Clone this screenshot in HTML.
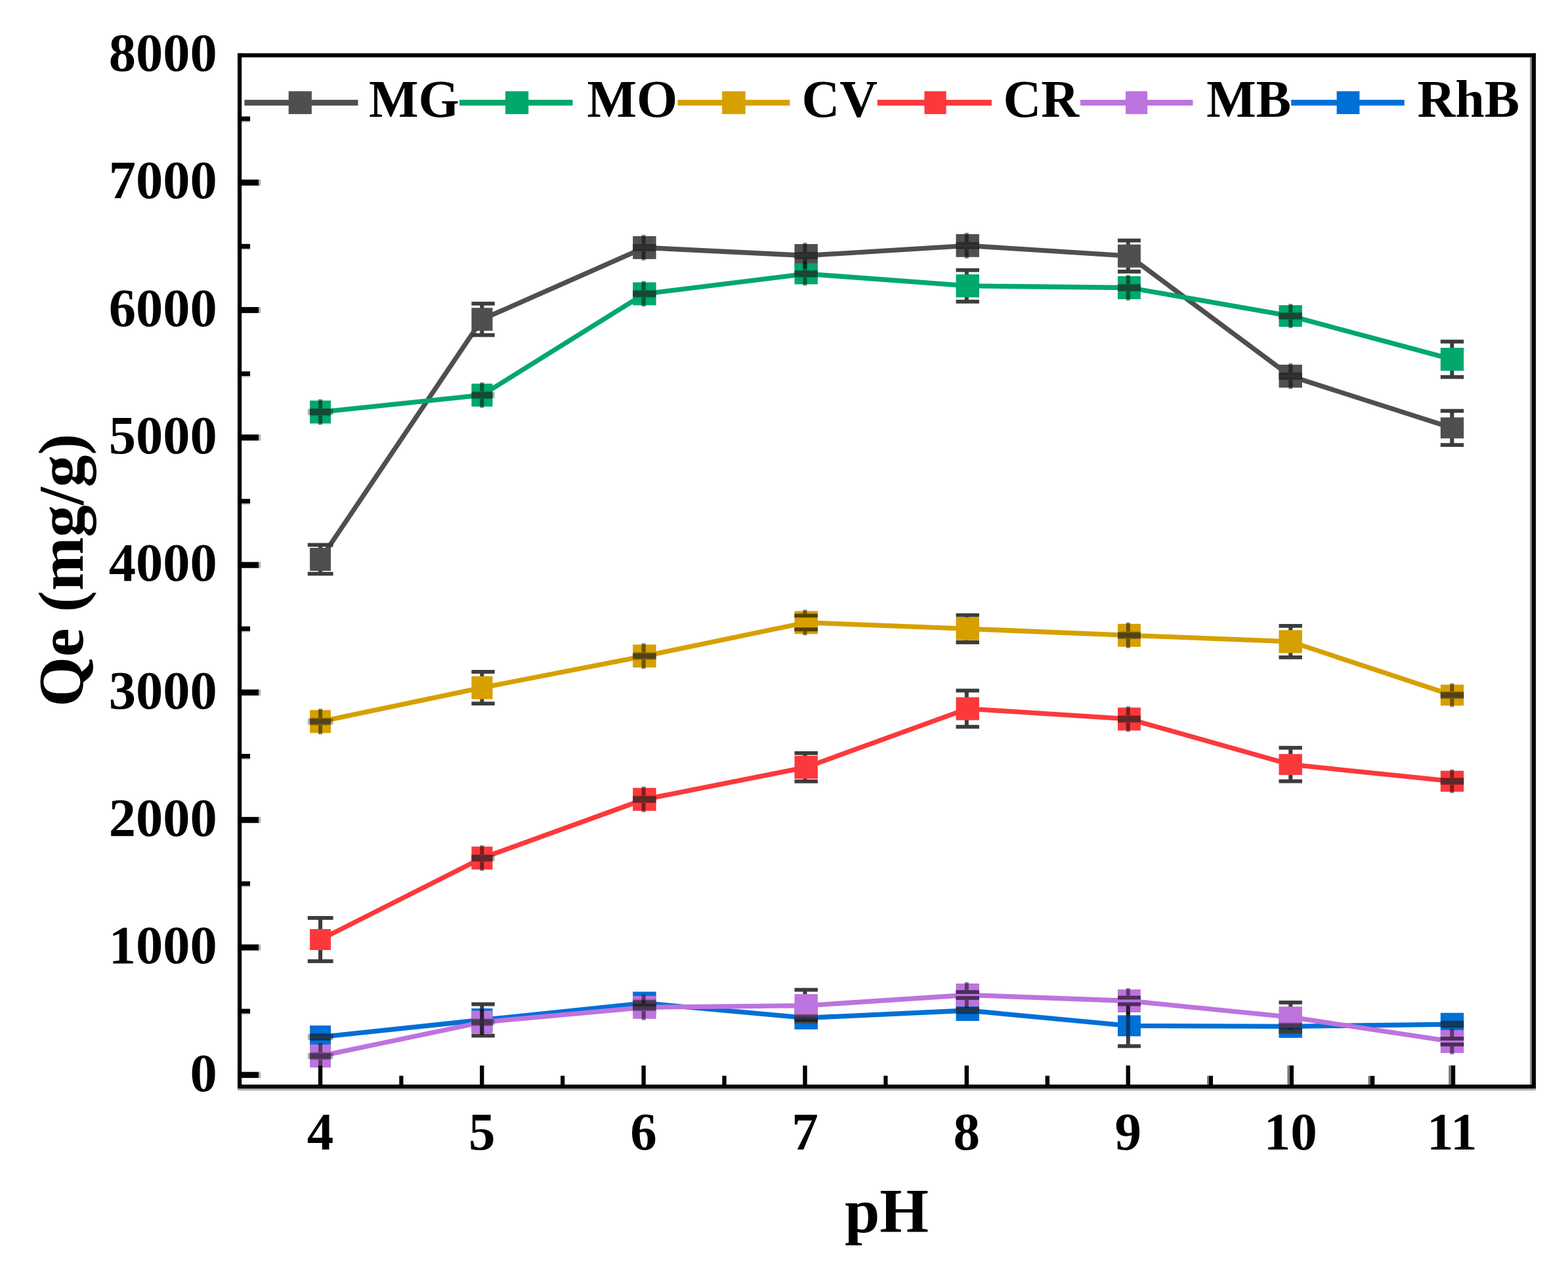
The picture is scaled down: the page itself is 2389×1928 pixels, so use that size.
<!DOCTYPE html>
<html lang="en"><head><meta charset="utf-8">
<title>Qe (mg/g) versus pH</title>
<style>
html,body{margin:0;padding:0;background:#fff;}
body{width:2389px;height:1928px;overflow:hidden;}
svg{display:block;filter:blur(0.6px);}
text{font-family:"Liberation Serif","Times New Roman",Times,serif;font-weight:bold;fill:#000;}
.tk{font-size:82.5px;}
.xt{font-size:81px;}
.lg{font-size:80px;}
.ax{font-size:96px;}
.ay{font-size:98px;}
</style></head><body>
<svg width="2389" height="1928" viewBox="0 0 2389 1928">
<rect x="0" y="0" width="2389" height="1928" fill="#ffffff"/>
<g>
<polyline points="488.1,852.5 734.45,486.7 981.9,377.4 1228.2,389.5 1474.2,374.3 1720.45,390.2 1966.2,573.3 2212.5,652.2" fill="none" stroke="#4f4f4f" stroke-width="7.3" stroke-linejoin="round"/>
<rect x="485.1" y="830.5" width="6" height="44" fill="#3c3c3c"/>
<rect x="468.8" y="827.6" width="38.8" height="5.8" fill="#3c3c3c"/>
<rect x="468.8" y="871.6" width="38.8" height="5.8" fill="#3c3c3c"/>
<rect x="472.1" y="835" width="32" height="35" fill="#4f4f4f"/>
<rect x="731.3" y="462.7" width="6" height="48" fill="#3c3c3c"/>
<rect x="718.4" y="459.8" width="35.3" height="5.8" fill="#3c3c3c"/>
<rect x="718.4" y="507.8" width="35.3" height="5.8" fill="#3c3c3c"/>
<rect x="718.4" y="469.2" width="32.1" height="35" fill="#4f4f4f"/>
<rect x="964.2" y="359.9" width="35.4" height="35" fill="#4f4f4f"/>
<rect x="1210.5" y="372" width="35.4" height="35" fill="#4f4f4f"/>
<rect x="1456.5" y="356.8" width="35.4" height="35" fill="#4f4f4f"/>
<rect x="1715.8" y="366.5" width="6" height="47.4" fill="#3c3c3c"/>
<rect x="1703" y="363.6" width="34.9" height="5.8" fill="#3c3c3c"/>
<rect x="1703" y="411" width="34.9" height="5.8" fill="#3c3c3c"/>
<rect x="1703" y="372.7" width="34.9" height="35" fill="#4f4f4f"/>
<rect x="1948.5" y="555.8" width="35.4" height="35" fill="#4f4f4f"/>
<rect x="2209.3" y="626.2" width="6" height="52" fill="#3c3c3c"/>
<rect x="2194.8" y="623.3" width="35.4" height="5.8" fill="#3c3c3c"/>
<rect x="2194.8" y="675.3" width="35.4" height="5.8" fill="#3c3c3c"/>
<rect x="2194.8" y="636.2" width="35.4" height="32" fill="#4f4f4f"/>
</g>
<g>
<polyline points="488.1,628 734.45,602.2 981.9,447.8 1228.2,417.3 1474.2,435.7 1720.45,438.5 1966.2,481.6 2212.5,547.6" fill="none" stroke="#00a86b" stroke-width="7.3" stroke-linejoin="round"/>
<rect x="472.1" y="610.5" width="32" height="35" fill="#00a86b"/>
<rect x="718.4" y="584.7" width="32.1" height="35" fill="#00a86b"/>
<rect x="964.2" y="430.3" width="35.4" height="35" fill="#00a86b"/>
<rect x="1210.5" y="401.3" width="35.4" height="32" fill="#00a86b"/>
<rect x="1469.8" y="411.7" width="6" height="48" fill="#3c3c3c"/>
<rect x="1456.5" y="408.8" width="35.4" height="5.8" fill="#3c3c3c"/>
<rect x="1456.5" y="456.8" width="35.4" height="5.8" fill="#3c3c3c"/>
<rect x="1456.5" y="418.2" width="35.4" height="35" fill="#00a86b"/>
<rect x="1703" y="421" width="34.9" height="35" fill="#00a86b"/>
<rect x="1948.5" y="465.1" width="35.4" height="33" fill="#00a86b"/>
<rect x="2209.3" y="520.6" width="6" height="54" fill="#3c3c3c"/>
<rect x="2194.8" y="517.7" width="35.4" height="5.8" fill="#3c3c3c"/>
<rect x="2194.8" y="571.7" width="35.4" height="5.8" fill="#3c3c3c"/>
<rect x="2194.8" y="530.1" width="35.4" height="35" fill="#00a86b"/>
</g>
<g>
<polyline points="488.1,1099.7 734.45,1048.1 981.9,999.9 1228.2,948.8 1474.2,958.3 1720.45,968.3 1966.2,977.9 2212.5,1059.5" fill="none" stroke="#d6a000" stroke-width="7.3" stroke-linejoin="round"/>
<rect x="472.1" y="1082.2" width="32" height="35" fill="#d6a000"/>
<rect x="731.3" y="1023.9" width="6" height="48.4" fill="#3c3c3c"/>
<rect x="718.4" y="1021" width="35.3" height="5.8" fill="#3c3c3c"/>
<rect x="718.4" y="1069.4" width="35.3" height="5.8" fill="#3c3c3c"/>
<rect x="718.4" y="1030.6" width="32.1" height="35" fill="#d6a000"/>
<rect x="964.2" y="982.4" width="35.4" height="35" fill="#d6a000"/>
<rect x="1223.5" y="938.3" width="6" height="21" fill="#3c3c3c"/>
<rect x="1210.5" y="935.4" width="35.4" height="5.8" fill="#3c3c3c"/>
<rect x="1210.5" y="956.4" width="35.4" height="5.8" fill="#3c3c3c"/>
<rect x="1210.5" y="931.3" width="35.4" height="35" fill="#d6a000"/>
<rect x="1469.8" y="937.6" width="6" height="41.4" fill="#3c3c3c"/>
<rect x="1456.5" y="934.7" width="35.4" height="5.8" fill="#3c3c3c"/>
<rect x="1456.5" y="976.1" width="35.4" height="5.8" fill="#3c3c3c"/>
<rect x="1456.5" y="940.8" width="35.4" height="35" fill="#d6a000"/>
<rect x="1703" y="950.8" width="34.9" height="35" fill="#d6a000"/>
<rect x="1963.3" y="953.9" width="6" height="48" fill="#3c3c3c"/>
<rect x="1948.5" y="951" width="35.4" height="5.8" fill="#3c3c3c"/>
<rect x="1948.5" y="999" width="35.4" height="5.8" fill="#3c3c3c"/>
<rect x="1948.5" y="960.4" width="35.4" height="35" fill="#d6a000"/>
<rect x="2194.8" y="1043.5" width="35.4" height="32" fill="#d6a000"/>
</g>
<g>
<polyline points="488.1,1432 734.45,1307.8 981.9,1218.3 1228.2,1169.4 1474.2,1080.1 1720.45,1095.9 1966.2,1165.2 2212.5,1190.7" fill="none" stroke="#fb393c" stroke-width="7.3" stroke-linejoin="round"/>
<rect x="485.1" y="1399" width="6" height="66" fill="#3c3c3c"/>
<rect x="468.8" y="1396.1" width="38.8" height="5.8" fill="#3c3c3c"/>
<rect x="468.8" y="1462.1" width="38.8" height="5.8" fill="#3c3c3c"/>
<rect x="472.1" y="1416" width="32" height="32" fill="#fb393c"/>
<rect x="718.4" y="1290.3" width="32.1" height="35" fill="#fb393c"/>
<rect x="964.2" y="1200.8" width="35.4" height="35" fill="#fb393c"/>
<rect x="1223.5" y="1147.9" width="6" height="43" fill="#3c3c3c"/>
<rect x="1210.5" y="1145" width="35.4" height="5.8" fill="#3c3c3c"/>
<rect x="1210.5" y="1188" width="35.4" height="5.8" fill="#3c3c3c"/>
<rect x="1210.5" y="1151.9" width="35.4" height="35" fill="#fb393c"/>
<rect x="1469.8" y="1052.5" width="6" height="55.2" fill="#3c3c3c"/>
<rect x="1456.5" y="1049.6" width="35.4" height="5.8" fill="#3c3c3c"/>
<rect x="1456.5" y="1104.8" width="35.4" height="5.8" fill="#3c3c3c"/>
<rect x="1456.5" y="1062.6" width="35.4" height="35" fill="#fb393c"/>
<rect x="1703" y="1078.4" width="34.9" height="35" fill="#fb393c"/>
<rect x="1963.3" y="1139.7" width="6" height="51" fill="#3c3c3c"/>
<rect x="1948.5" y="1136.8" width="35.4" height="5.8" fill="#3c3c3c"/>
<rect x="1948.5" y="1187.8" width="35.4" height="5.8" fill="#3c3c3c"/>
<rect x="1948.5" y="1149.2" width="35.4" height="32" fill="#fb393c"/>
<rect x="2194.8" y="1174.7" width="35.4" height="32" fill="#fb393c"/>
</g>
<g>
<polyline points="488.1,1580.5 734.45,1554.5 981.9,1529 1228.2,1551.4 1474.2,1540 1720.45,1563.4 1966.2,1564.3 2212.5,1561.2" fill="none" stroke="#006fd6" stroke-width="7.3" stroke-linejoin="round"/>
<rect x="472.1" y="1563" width="32" height="35" fill="#006fd6"/>
<rect x="731.3" y="1530.5" width="6" height="48" fill="#3c3c3c"/>
<rect x="718.4" y="1527.6" width="35.3" height="5.8" fill="#3c3c3c"/>
<rect x="718.4" y="1575.6" width="35.3" height="5.8" fill="#3c3c3c"/>
<rect x="718.4" y="1537" width="32.1" height="35" fill="#006fd6"/>
<rect x="964.2" y="1511.5" width="35.4" height="35" fill="#006fd6"/>
<rect x="1210.5" y="1533.9" width="35.4" height="35" fill="#006fd6"/>
<rect x="1456.5" y="1524" width="35.4" height="32" fill="#006fd6"/>
<rect x="1715.8" y="1532.4" width="6" height="62" fill="#3c3c3c"/>
<rect x="1703" y="1529.5" width="34.9" height="5.8" fill="#3c3c3c"/>
<rect x="1703" y="1591.5" width="34.9" height="5.8" fill="#3c3c3c"/>
<rect x="1703" y="1547.4" width="34.9" height="32" fill="#006fd6"/>
<rect x="1948.5" y="1546.8" width="35.4" height="35" fill="#006fd6"/>
<rect x="2194.8" y="1543.7" width="35.4" height="35" fill="#006fd6"/>
</g>
<g>
<polyline points="488.1,1609.5 734.45,1558 981.9,1535.3 1228.2,1532.6 1474.2,1516.5 1720.45,1525.5 1966.2,1550.2 2212.5,1587.4" fill="none" stroke="#bd74de" stroke-width="7.3" stroke-linejoin="round"/>
<rect x="472.1" y="1592" width="32" height="35" fill="#bd74de"/>
<rect x="718.4" y="1540.5" width="32.1" height="35" fill="#bd74de"/>
<rect x="964.2" y="1517.8" width="35.4" height="35" fill="#bd74de"/>
<rect x="1223.5" y="1508.6" width="6" height="48" fill="#3c3c3c"/>
<rect x="1210.5" y="1505.7" width="35.4" height="5.8" fill="#3c3c3c"/>
<rect x="1210.5" y="1553.7" width="35.4" height="5.8" fill="#3c3c3c"/>
<rect x="1210.5" y="1515.1" width="35.4" height="35" fill="#bd74de"/>
<rect x="1469.8" y="1512" width="6" height="9" fill="#3c3c3c"/>
<rect x="1456.5" y="1509.1" width="35.4" height="5.8" fill="#3c3c3c"/>
<rect x="1456.5" y="1518.1" width="35.4" height="5.8" fill="#3c3c3c"/>
<rect x="1456.5" y="1499" width="35.4" height="35" fill="#bd74de"/>
<rect x="1715.8" y="1520.5" width="6" height="10" fill="#3c3c3c"/>
<rect x="1703" y="1517.6" width="34.9" height="5.8" fill="#3c3c3c"/>
<rect x="1703" y="1527.6" width="34.9" height="5.8" fill="#3c3c3c"/>
<rect x="1703" y="1508" width="34.9" height="35" fill="#bd74de"/>
<rect x="1963.3" y="1527.9" width="6" height="44.6" fill="#3c3c3c"/>
<rect x="1948.5" y="1525" width="35.4" height="5.8" fill="#3c3c3c"/>
<rect x="1948.5" y="1569.6" width="35.4" height="5.8" fill="#3c3c3c"/>
<rect x="1948.5" y="1534.2" width="35.4" height="32" fill="#bd74de"/>
<rect x="2209.3" y="1582.9" width="6" height="9" fill="#3c3c3c"/>
<rect x="2194.8" y="1580" width="35.4" height="5.8" fill="#3c3c3c"/>
<rect x="2194.8" y="1589" width="35.4" height="5.8" fill="#3c3c3c"/>
<rect x="2194.8" y="1569.9" width="35.4" height="35" fill="#bd74de"/>
</g>
<g>
<rect x="977.6" y="357.9" width="6" height="13.9" fill="#000" fill-opacity="0.5"/>
<rect x="977.6" y="383" width="6" height="13.9" fill="#000" fill-opacity="0.5"/>
<rect x="964.2" y="372.8" width="35.4" height="9.2" fill="#000" fill-opacity="0.3"/>
<rect x="964.2" y="371.8" width="35.4" height="11.2" fill="#000" fill-opacity="0.3"/>
<rect x="964.2" y="374.4" width="35.4" height="6" fill="#3a3a3a" fill-opacity="0.55"/>
<rect x="1223.5" y="370" width="6" height="13.9" fill="#000" fill-opacity="0.5"/>
<rect x="1223.5" y="395.1" width="6" height="13.9" fill="#000" fill-opacity="0.5"/>
<rect x="1210.5" y="384.9" width="35.4" height="9.2" fill="#000" fill-opacity="0.3"/>
<rect x="1210.5" y="383.9" width="35.4" height="11.2" fill="#000" fill-opacity="0.3"/>
<rect x="1210.5" y="386.5" width="35.4" height="6" fill="#3a3a3a" fill-opacity="0.55"/>
<rect x="1469.8" y="354.8" width="6" height="13.9" fill="#000" fill-opacity="0.5"/>
<rect x="1469.8" y="379.9" width="6" height="13.9" fill="#000" fill-opacity="0.5"/>
<rect x="1456.5" y="369.7" width="35.4" height="9.2" fill="#000" fill-opacity="0.3"/>
<rect x="1456.5" y="368.7" width="35.4" height="11.2" fill="#000" fill-opacity="0.3"/>
<rect x="1456.5" y="371.3" width="35.4" height="6" fill="#3a3a3a" fill-opacity="0.55"/>
<rect x="1963.3" y="553.8" width="6" height="13.9" fill="#000" fill-opacity="0.5"/>
<rect x="1963.3" y="578.9" width="6" height="13.9" fill="#000" fill-opacity="0.5"/>
<rect x="1948.5" y="568.7" width="35.4" height="9.2" fill="#000" fill-opacity="0.3"/>
<rect x="1948.5" y="567.7" width="35.4" height="11.2" fill="#000" fill-opacity="0.3"/>
<rect x="1948.5" y="570.3" width="35.4" height="6" fill="#3a3a3a" fill-opacity="0.55"/>
<rect x="485.1" y="608.5" width="6" height="13.9" fill="#000" fill-opacity="0.5"/>
<rect x="485.1" y="633.6" width="6" height="13.9" fill="#000" fill-opacity="0.5"/>
<rect x="468.8" y="623.4" width="38.8" height="9.2" fill="#000" fill-opacity="0.3"/>
<rect x="472.1" y="622.4" width="32" height="11.2" fill="#000" fill-opacity="0.3"/>
<rect x="472.1" y="625" width="32" height="6" fill="#3a3a3a" fill-opacity="0.55"/>
<rect x="731.3" y="582.7" width="6" height="13.9" fill="#000" fill-opacity="0.5"/>
<rect x="731.3" y="607.8" width="6" height="13.9" fill="#000" fill-opacity="0.5"/>
<rect x="718.4" y="597.6" width="35.3" height="9.2" fill="#000" fill-opacity="0.3"/>
<rect x="718.4" y="596.6" width="32.1" height="11.2" fill="#000" fill-opacity="0.3"/>
<rect x="718.4" y="599.2" width="32.1" height="6" fill="#3a3a3a" fill-opacity="0.55"/>
<rect x="977.6" y="428.3" width="6" height="13.9" fill="#000" fill-opacity="0.5"/>
<rect x="977.6" y="453.4" width="6" height="13.9" fill="#000" fill-opacity="0.5"/>
<rect x="964.2" y="443.2" width="35.4" height="9.2" fill="#000" fill-opacity="0.3"/>
<rect x="964.2" y="442.2" width="35.4" height="11.2" fill="#000" fill-opacity="0.3"/>
<rect x="964.2" y="444.8" width="35.4" height="6" fill="#3a3a3a" fill-opacity="0.55"/>
<rect x="1223.5" y="399.3" width="6" height="12.4" fill="#000" fill-opacity="0.5"/>
<rect x="1223.5" y="422.9" width="6" height="12.4" fill="#000" fill-opacity="0.5"/>
<rect x="1210.5" y="412.7" width="35.4" height="9.2" fill="#000" fill-opacity="0.3"/>
<rect x="1210.5" y="411.7" width="35.4" height="11.2" fill="#000" fill-opacity="0.3"/>
<rect x="1210.5" y="414.3" width="35.4" height="6" fill="#3a3a3a" fill-opacity="0.55"/>
<rect x="1715.8" y="419" width="6" height="13.9" fill="#000" fill-opacity="0.5"/>
<rect x="1715.8" y="444.1" width="6" height="13.9" fill="#000" fill-opacity="0.5"/>
<rect x="1703" y="433.9" width="34.9" height="9.2" fill="#000" fill-opacity="0.3"/>
<rect x="1703" y="432.9" width="34.9" height="11.2" fill="#000" fill-opacity="0.3"/>
<rect x="1703" y="435.5" width="34.9" height="6" fill="#3a3a3a" fill-opacity="0.55"/>
<rect x="1963.3" y="463.1" width="6" height="12.9" fill="#000" fill-opacity="0.5"/>
<rect x="1963.3" y="487.2" width="6" height="12.9" fill="#000" fill-opacity="0.5"/>
<rect x="1948.5" y="477" width="35.4" height="9.2" fill="#000" fill-opacity="0.3"/>
<rect x="1948.5" y="476" width="35.4" height="11.2" fill="#000" fill-opacity="0.3"/>
<rect x="1948.5" y="478.6" width="35.4" height="6" fill="#3a3a3a" fill-opacity="0.55"/>
<rect x="485.1" y="1080.2" width="6" height="13.9" fill="#000" fill-opacity="0.5"/>
<rect x="485.1" y="1105.3" width="6" height="13.9" fill="#000" fill-opacity="0.5"/>
<rect x="468.8" y="1095.1" width="38.8" height="9.2" fill="#000" fill-opacity="0.3"/>
<rect x="472.1" y="1094.1" width="32" height="11.2" fill="#000" fill-opacity="0.3"/>
<rect x="472.1" y="1096.7" width="32" height="6" fill="#3a3a3a" fill-opacity="0.55"/>
<rect x="977.6" y="980.4" width="6" height="13.9" fill="#000" fill-opacity="0.5"/>
<rect x="977.6" y="1005.5" width="6" height="13.9" fill="#000" fill-opacity="0.5"/>
<rect x="964.2" y="995.3" width="35.4" height="9.2" fill="#000" fill-opacity="0.3"/>
<rect x="964.2" y="994.3" width="35.4" height="11.2" fill="#000" fill-opacity="0.3"/>
<rect x="964.2" y="996.9" width="35.4" height="6" fill="#3a3a3a" fill-opacity="0.55"/>
<rect x="1223.5" y="929.3" width="6" height="6.1" fill="#000" fill-opacity="0.5"/>
<rect x="1223.5" y="962.2" width="6" height="6.1" fill="#000" fill-opacity="0.5"/>
<rect x="1210.5" y="935.4" width="35.4" height="5.8" fill="#000" fill-opacity="0.6"/>
<rect x="1210.5" y="956.4" width="35.4" height="5.8" fill="#000" fill-opacity="0.6"/>
<rect x="1715.8" y="948.8" width="6" height="13.9" fill="#000" fill-opacity="0.5"/>
<rect x="1715.8" y="973.9" width="6" height="13.9" fill="#000" fill-opacity="0.5"/>
<rect x="1703" y="963.7" width="34.9" height="9.2" fill="#000" fill-opacity="0.3"/>
<rect x="1703" y="962.7" width="34.9" height="11.2" fill="#000" fill-opacity="0.3"/>
<rect x="1703" y="965.3" width="34.9" height="6" fill="#3a3a3a" fill-opacity="0.55"/>
<rect x="2209.3" y="1041.5" width="6" height="12.4" fill="#000" fill-opacity="0.5"/>
<rect x="2209.3" y="1065.1" width="6" height="12.4" fill="#000" fill-opacity="0.5"/>
<rect x="2194.8" y="1054.9" width="35.4" height="9.2" fill="#000" fill-opacity="0.3"/>
<rect x="2194.8" y="1053.9" width="35.4" height="11.2" fill="#000" fill-opacity="0.3"/>
<rect x="2194.8" y="1056.5" width="35.4" height="6" fill="#3a3a3a" fill-opacity="0.55"/>
<rect x="731.3" y="1288.3" width="6" height="13.9" fill="#000" fill-opacity="0.5"/>
<rect x="731.3" y="1313.4" width="6" height="13.9" fill="#000" fill-opacity="0.5"/>
<rect x="718.4" y="1303.2" width="35.3" height="9.2" fill="#000" fill-opacity="0.3"/>
<rect x="718.4" y="1302.2" width="32.1" height="11.2" fill="#000" fill-opacity="0.3"/>
<rect x="718.4" y="1304.8" width="32.1" height="6" fill="#3a3a3a" fill-opacity="0.55"/>
<rect x="977.6" y="1198.8" width="6" height="13.9" fill="#000" fill-opacity="0.5"/>
<rect x="977.6" y="1223.9" width="6" height="13.9" fill="#000" fill-opacity="0.5"/>
<rect x="964.2" y="1213.7" width="35.4" height="9.2" fill="#000" fill-opacity="0.3"/>
<rect x="964.2" y="1212.7" width="35.4" height="11.2" fill="#000" fill-opacity="0.3"/>
<rect x="964.2" y="1215.3" width="35.4" height="6" fill="#3a3a3a" fill-opacity="0.55"/>
<rect x="1715.8" y="1076.4" width="6" height="13.9" fill="#000" fill-opacity="0.5"/>
<rect x="1715.8" y="1101.5" width="6" height="13.9" fill="#000" fill-opacity="0.5"/>
<rect x="1703" y="1091.3" width="34.9" height="9.2" fill="#000" fill-opacity="0.3"/>
<rect x="1703" y="1090.3" width="34.9" height="11.2" fill="#000" fill-opacity="0.3"/>
<rect x="1703" y="1092.9" width="34.9" height="6" fill="#3a3a3a" fill-opacity="0.55"/>
<rect x="2209.3" y="1172.7" width="6" height="12.4" fill="#000" fill-opacity="0.5"/>
<rect x="2209.3" y="1196.3" width="6" height="12.4" fill="#000" fill-opacity="0.5"/>
<rect x="2194.8" y="1186.1" width="35.4" height="9.2" fill="#000" fill-opacity="0.3"/>
<rect x="2194.8" y="1185.1" width="35.4" height="11.2" fill="#000" fill-opacity="0.3"/>
<rect x="2194.8" y="1187.7" width="35.4" height="6" fill="#3a3a3a" fill-opacity="0.55"/>
<rect x="468.8" y="1575.9" width="38.8" height="9.2" fill="#000" fill-opacity="0.3"/>
<rect x="472.1" y="1574.9" width="32" height="11.2" fill="#000" fill-opacity="0.3"/>
<rect x="472.1" y="1577.5" width="32" height="6" fill="#3a3a3a" fill-opacity="0.55"/>
<rect x="731.3" y="1537" width="6" height="38.5" fill="#000" fill-opacity="0.5"/>
<rect x="964.2" y="1524.4" width="35.4" height="9.2" fill="#000" fill-opacity="0.3"/>
<rect x="964.2" y="1523.4" width="35.4" height="11.2" fill="#000" fill-opacity="0.3"/>
<rect x="964.2" y="1526" width="35.4" height="6" fill="#3a3a3a" fill-opacity="0.55"/>
<rect x="1210.5" y="1546.8" width="35.4" height="9.2" fill="#000" fill-opacity="0.3"/>
<rect x="1210.5" y="1545.8" width="35.4" height="11.2" fill="#000" fill-opacity="0.3"/>
<rect x="1210.5" y="1548.4" width="35.4" height="6" fill="#3a3a3a" fill-opacity="0.55"/>
<rect x="1456.5" y="1535.4" width="35.4" height="9.2" fill="#000" fill-opacity="0.3"/>
<rect x="1456.5" y="1534.4" width="35.4" height="11.2" fill="#000" fill-opacity="0.3"/>
<rect x="1456.5" y="1537" width="35.4" height="6" fill="#3a3a3a" fill-opacity="0.55"/>
<rect x="1715.8" y="1532.4" width="6" height="47" fill="#000" fill-opacity="0.5"/>
<rect x="1948.5" y="1559.7" width="35.4" height="9.2" fill="#000" fill-opacity="0.3"/>
<rect x="1948.5" y="1558.7" width="35.4" height="11.2" fill="#000" fill-opacity="0.3"/>
<rect x="1948.5" y="1561.3" width="35.4" height="6" fill="#3a3a3a" fill-opacity="0.55"/>
<rect x="2194.8" y="1556.6" width="35.4" height="9.2" fill="#000" fill-opacity="0.3"/>
<rect x="2194.8" y="1555.6" width="35.4" height="11.2" fill="#000" fill-opacity="0.3"/>
<rect x="2194.8" y="1558.2" width="35.4" height="6" fill="#3a3a3a" fill-opacity="0.55"/>
<rect x="485.1" y="1590" width="6" height="13.9" fill="#000" fill-opacity="0.5"/>
<rect x="485.1" y="1615.1" width="6" height="13.9" fill="#000" fill-opacity="0.5"/>
<rect x="468.8" y="1604.9" width="38.8" height="9.2" fill="#000" fill-opacity="0.3"/>
<rect x="472.1" y="1603.9" width="32" height="11.2" fill="#000" fill-opacity="0.3"/>
<rect x="472.1" y="1606.5" width="32" height="6" fill="#3a3a3a" fill-opacity="0.55"/>
<rect x="731.3" y="1538.5" width="6" height="13.9" fill="#000" fill-opacity="0.5"/>
<rect x="731.3" y="1563.6" width="6" height="13.9" fill="#000" fill-opacity="0.5"/>
<rect x="718.4" y="1553.4" width="35.3" height="9.2" fill="#000" fill-opacity="0.3"/>
<rect x="718.4" y="1552.4" width="32.1" height="11.2" fill="#000" fill-opacity="0.3"/>
<rect x="718.4" y="1555" width="32.1" height="6" fill="#3a3a3a" fill-opacity="0.55"/>
<rect x="977.6" y="1515.8" width="6" height="13.9" fill="#000" fill-opacity="0.5"/>
<rect x="977.6" y="1540.9" width="6" height="13.9" fill="#000" fill-opacity="0.5"/>
<rect x="964.2" y="1530.7" width="35.4" height="9.2" fill="#000" fill-opacity="0.3"/>
<rect x="964.2" y="1529.7" width="35.4" height="11.2" fill="#000" fill-opacity="0.3"/>
<rect x="964.2" y="1532.3" width="35.4" height="6" fill="#3a3a3a" fill-opacity="0.55"/>
<rect x="1469.8" y="1497" width="6" height="12.1" fill="#000" fill-opacity="0.5"/>
<rect x="1469.8" y="1523.9" width="6" height="12.1" fill="#000" fill-opacity="0.5"/>
<rect x="1456.5" y="1509.1" width="35.4" height="5.8" fill="#000" fill-opacity="0.6"/>
<rect x="1456.5" y="1518.1" width="35.4" height="5.8" fill="#000" fill-opacity="0.6"/>
<rect x="1715.8" y="1506" width="6" height="11.6" fill="#000" fill-opacity="0.5"/>
<rect x="1715.8" y="1533.4" width="6" height="11.6" fill="#000" fill-opacity="0.5"/>
<rect x="1703" y="1517.6" width="34.9" height="5.8" fill="#000" fill-opacity="0.6"/>
<rect x="1703" y="1527.6" width="34.9" height="5.8" fill="#000" fill-opacity="0.6"/>
<rect x="2209.3" y="1567.9" width="6" height="12.1" fill="#000" fill-opacity="0.5"/>
<rect x="2209.3" y="1594.8" width="6" height="12.1" fill="#000" fill-opacity="0.5"/>
<rect x="2194.8" y="1580" width="35.4" height="5.8" fill="#000" fill-opacity="0.6"/>
<rect x="2194.8" y="1589" width="35.4" height="5.8" fill="#000" fill-opacity="0.6"/>
</g>
<g>
<rect x="2330.9" y="87.4" width="3.3" height="1565.6" fill="#909090"/>
<rect x="362" y="1658.8" width="1978" height="3.2" fill="#ababab"/>
<rect x="365" y="1633.7" width="29.3" height="9.2" fill="#000"/>
<rect x="394.3" y="1633.7" width="2.9" height="9.2" fill="#b0b0b0"/>
<rect x="365" y="1537.56" width="16.1" height="7.2" fill="#000"/>
<rect x="365" y="1544.75" width="16.1" height="1.8" fill="#c8c8c8"/>
<rect x="365" y="1439.41" width="29.3" height="9.2" fill="#000"/>
<rect x="394.3" y="1439.41" width="2.9" height="9.2" fill="#b0b0b0"/>
<rect x="365" y="1343.27" width="16.1" height="7.2" fill="#000"/>
<rect x="365" y="1350.46" width="16.1" height="1.8" fill="#c8c8c8"/>
<rect x="365" y="1245.12" width="29.3" height="9.2" fill="#000"/>
<rect x="394.3" y="1245.12" width="2.9" height="9.2" fill="#b0b0b0"/>
<rect x="365" y="1148.97" width="16.1" height="7.2" fill="#000"/>
<rect x="365" y="1156.17" width="16.1" height="1.8" fill="#c8c8c8"/>
<rect x="365" y="1050.83" width="29.3" height="9.2" fill="#000"/>
<rect x="394.3" y="1050.83" width="2.9" height="9.2" fill="#b0b0b0"/>
<rect x="365" y="954.68" width="16.1" height="7.2" fill="#000"/>
<rect x="365" y="961.88" width="16.1" height="1.8" fill="#c8c8c8"/>
<rect x="365" y="856.54" width="29.3" height="9.2" fill="#000"/>
<rect x="394.3" y="856.54" width="2.9" height="9.2" fill="#b0b0b0"/>
<rect x="365" y="760.39" width="16.1" height="7.2" fill="#000"/>
<rect x="365" y="767.6" width="16.1" height="1.8" fill="#c8c8c8"/>
<rect x="365" y="662.25" width="29.3" height="9.2" fill="#000"/>
<rect x="394.3" y="662.25" width="2.9" height="9.2" fill="#b0b0b0"/>
<rect x="365" y="566.1" width="16.1" height="7.2" fill="#000"/>
<rect x="365" y="573.3" width="16.1" height="1.8" fill="#c8c8c8"/>
<rect x="365" y="467.96" width="29.3" height="9.2" fill="#000"/>
<rect x="394.3" y="467.96" width="2.9" height="9.2" fill="#b0b0b0"/>
<rect x="365" y="371.81" width="16.1" height="7.2" fill="#000"/>
<rect x="365" y="379.01" width="16.1" height="1.8" fill="#c8c8c8"/>
<rect x="365" y="273.67" width="29.3" height="9.2" fill="#000"/>
<rect x="394.3" y="273.67" width="2.9" height="9.2" fill="#b0b0b0"/>
<rect x="365" y="177.53" width="16.1" height="7.2" fill="#000"/>
<rect x="365" y="184.72" width="16.1" height="1.8" fill="#c8c8c8"/>
<rect x="484.95" y="1624" width="6.3" height="32" fill="#000"/>
<rect x="608.3" y="1639.6" width="6.2" height="16.4" fill="#000"/>
<rect x="731.15" y="1624" width="6.3" height="32" fill="#000"/>
<rect x="854.1" y="1639.6" width="6.2" height="16.4" fill="#000"/>
<rect x="977.45" y="1624" width="6.3" height="32" fill="#000"/>
<rect x="1100.4" y="1639.6" width="6.3" height="16.4" fill="#000"/>
<rect x="1223.3" y="1624" width="6.4" height="32" fill="#000"/>
<rect x="1346.3" y="1639.6" width="6.2" height="16.4" fill="#000"/>
<rect x="1469.6" y="1624" width="6.4" height="32" fill="#000"/>
<rect x="1592.6" y="1639.6" width="6.4" height="16.4" fill="#000"/>
<rect x="1715.6" y="1624" width="6.4" height="32" fill="#000"/>
<rect x="1839.1" y="1639.6" width="2.8" height="16.4" fill="#7a7a7a"/>
<rect x="1841.9" y="1639.6" width="6.1" height="16.4" fill="#000"/>
<rect x="1961.4" y="1623.8" width="3.7" height="32.2" fill="#7a7a7a"/>
<rect x="1965.1" y="1623.8" width="5.9" height="32.2" fill="#000"/>
<rect x="2084.5" y="1639.8" width="3.3" height="16.2" fill="#7a7a7a"/>
<rect x="2087.8" y="1639.8" width="6.5" height="16.2" fill="#000"/>
<rect x="2207.2" y="1623.8" width="3.7" height="32.2" fill="#7a7a7a"/>
<rect x="2210.9" y="1623.8" width="6.3" height="32.2" fill="#000"/>
<rect x="362" y="81.2" width="6.2" height="1577.8" fill="#000"/>
<rect x="362" y="81.2" width="1978" height="6.2" fill="#000"/>
<rect x="2333.9" y="81.2" width="6.1" height="1577.8" fill="#000"/>
<rect x="362" y="1653" width="1978" height="6" fill="#000"/>
</g>
<g class="tk" text-anchor="end">
<text x="330.8" y="1662.5">0</text>
<text x="330.8" y="1468.21">1000</text>
<text x="330.8" y="1273.92">2000</text>
<text x="330.8" y="1079.63">3000</text>
<text x="330.8" y="885.34">4000</text>
<text x="330.8" y="691.05">5000</text>
<text x="330.8" y="496.76">6000</text>
<text x="330.8" y="302.47">7000</text>
<text x="330.8" y="108.18">8000</text>
</g>
<g class="xt" text-anchor="middle">
<text x="488.1" y="1752">4</text>
<text x="734.3" y="1752">5</text>
<text x="980.6" y="1752">6</text>
<text x="1226.5" y="1752">7</text>
<text x="1472.8" y="1752">8</text>
<text x="1718.8" y="1752">9</text>
<text x="1966.3" y="1752">10</text>
<text x="2212.3" y="1752">11</text>
</g>
<text class="ax" text-anchor="middle" x="1351" y="1877.7">pH</text>
<text class="ay" text-anchor="middle" transform="translate(126 869) rotate(-90)">Qe (mg/g)</text>
<g>
<rect x="372.4" y="152.1" width="173.1" height="8.8" fill="#4f4f4f"/>
<rect x="439.7" y="139.1" width="35.2" height="34.8" fill="#4f4f4f"/>
<text class="lg" x="562" y="178.3">MG</text>
<rect x="700" y="152.1" width="172.5" height="8.8" fill="#00a86b"/>
<rect x="770" y="139.1" width="35.2" height="34.8" fill="#00a86b"/>
<text class="lg" x="894.5" y="178.3">MO</text>
<rect x="1032.5" y="152.1" width="170.9" height="8.8" fill="#d6a000"/>
<rect x="1100.2" y="139.1" width="35.5" height="34.8" fill="#d6a000"/>
<text class="lg" x="1221.6" y="178.3">CV</text>
<rect x="1336.8" y="152.1" width="174.1" height="8.8" fill="#fb393c"/>
<rect x="1408.4" y="139.1" width="33.2" height="34.8" fill="#fb393c"/>
<text class="lg" x="1528.5" y="178.3">CR</text>
<rect x="1646" y="152.1" width="171.5" height="8.8" fill="#bd74de"/>
<rect x="1715" y="139.1" width="33.2" height="34.8" fill="#bd74de"/>
<text class="lg" x="1838.3" y="178.3">MB</text>
<rect x="1967.2" y="152.1" width="172.5" height="8.8" fill="#006fd6"/>
<rect x="2036.6" y="139.1" width="34.8" height="34.8" fill="#006fd6"/>
<text class="lg" x="2159.5" y="178.3">RhB</text>
</g>
</svg>
</body></html>
